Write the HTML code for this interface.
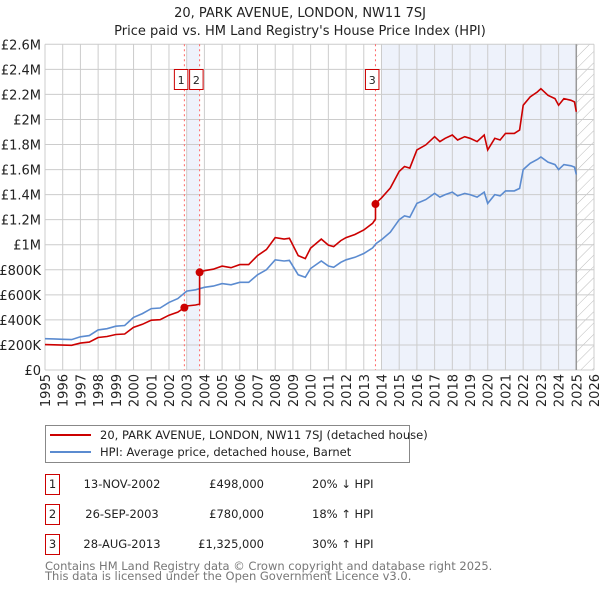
<!DOCTYPE html>
<html><head><meta charset="utf-8">
<style>
body{margin:0;background:#fff;font-family:"DejaVu Sans","Liberation Sans",sans-serif;}
svg text{font-family:"DejaVu Sans","Liberation Sans",sans-serif;}
</style></head>
<body>
<svg id="chart" width="600" height="590" viewBox="0 0 600 590" xmlns="http://www.w3.org/2000/svg">
<defs>
<pattern id="hatch" patternUnits="userSpaceOnUse" width="8" height="8" patternTransform="rotate(45)">
<line x1="0" y1="0" x2="0" y2="8" stroke="#bbb" stroke-width="1"/>
</pattern>
</defs>
<text x="300" y="17" text-anchor="middle" font-size="13" fill="#222">20, PARK AVENUE, LONDON, NW11 7SJ</text>
<text x="300" y="35" text-anchor="middle" font-size="13" fill="#222">Price paid vs. HM Land Registry's House Price Index (HPI)</text>
<g id="plot"></g>
<g id="legend">
<rect x="45.5" y="425.5" width="364" height="37" fill="#fff" stroke="#888"/>
<line x1="50" y1="435" x2="91" y2="435" stroke="#cc0000" stroke-width="2"/>
<text x="100" y="439" font-size="11.5" fill="#222">20, PARK AVENUE, LONDON, NW11 7SJ (detached house)</text>
<line x1="50" y1="452" x2="91" y2="452" stroke="#5b8bd0" stroke-width="2"/>
<text x="100" y="456" font-size="11.5" fill="#222">HPI: Average price, detached house, Barnet</text>
</g>
<g id="table" font-size="11.5" fill="#222"></g>
<text x="45" y="570" font-size="11.5" fill="#777">Contains HM Land Registry data © Crown copyright and database right 2025.</text>
<text x="45" y="580" font-size="11.5" fill="#777">This data is licensed under the Open Government Licence v3.0.</text>
</svg>
<script>
const hpiYears = [1995,1995.5,1996,1996.5,1997,1997.5,1998,1998.5,1999,1999.5,2000,2000.5,2001,2001.5,2002,2002.5,2003,2003.5,2004,2004.5,2005,2005.5,2006,2006.5,2007,2007.5,2008,2008.5,2008.8,2009.3,2009.7,2010,2010.6,2011,2011.3,2011.7,2012,2012.5,2013,2013.5,2013.7,2014,2014.5,2015,2015.3,2015.6,2016,2016.5,2017,2017.3,2017.6,2018,2018.3,2018.7,2019,2019.4,2019.8,2020,2020.4,2020.7,2021,2021.5,2021.8,2022,2022.4,2022.8,2023,2023.4,2023.8,2024,2024.3,2024.7,2024.9,2025];
const hpiValues = [250000,248000,245000,243000,265000,275000,320000,330000,350000,355000,420000,450000,490000,495000,540000,570000,630000,640000,660000,670000,690000,680000,700000,700000,760000,800000,880000,870000,875000,760000,740000,810000,870000,830000,820000,860000,880000,900000,930000,975000,1010000,1040000,1100000,1200000,1230000,1220000,1330000,1360000,1410000,1380000,1400000,1420000,1390000,1410000,1400000,1380000,1420000,1330000,1400000,1390000,1430000,1430000,1450000,1600000,1650000,1680000,1700000,1660000,1640000,1600000,1640000,1630000,1620000,1560000];
const saleLabels = ["1","2","3"];
const saleYears = [2002.87,2003.73,2013.66];
const salePrices = [498000,780000,1325000];
const saleDates = ["13-NOV-2002","26-SEP-2003","28-AUG-2013"];
const salePriceText = ["£498,000","£780,000","£1,325,000"];
const saleHpiText = ["20% ↓ HPI","18% ↑ HPI","30% ↑ HPI"];
const yTicks = [0,200000,400000,600000,800000,1000000,1200000,1400000,1600000,1800000,2000000,2200000,2400000,2600000];
const yTickLabels = ["£0","£200K","£400K","£600K","£800K","£1M","£1.2M","£1.4M","£1.6M","£1.8M","£2M","£2.2M","£2.4M","£2.6M"];
const xTicks = [1995,1996,1997,1998,1999,2000,2001,2002,2003,2004,2005,2006,2007,2008,2009,2010,2011,2012,2013,2014,2015,2016,2017,2018,2019,2020,2021,2022,2023,2024,2025,2026];

const L=45,R=594,T=44.3,B=370;
const x=v=>L+(v-1995)/(2026-1995)*(R-L);
const y=v=>B-v/2600000*(B-T);
const NS="http://www.w3.org/2000/svg";
const plot=document.getElementById('plot');
function mk(tag,attrs,parent){const e=document.createElementNS(NS,tag);for(const k in attrs)e.setAttribute(k,attrs[k]);(parent||plot).appendChild(e);return e;}
function hpiAt(t){for(let i=1;i<hpiYears.length;i++){if(t<=hpiYears[i]){const f=(t-hpiYears[i-1])/(hpiYears[i]-hpiYears[i-1]);return hpiValues[i-1]+f*(hpiValues[i]-hpiValues[i-1]);}}return hpiValues[hpiValues.length-1];}

let s=mk('rect',{x:x(saleYears[0])+2.5,y:T,width:x(saleYears[1])-x(saleYears[0])-2.5,height:B-T,fill:'#eef2fb'});


s=mk('rect',{x:x(2014),y:T,width:x(2025)-x(2014),height:B-T,fill:'#eef2fb'});


s=mk('rect',{x:x(2025),y:T,width:R-x(2025),height:B-T,fill:'url(#hatch)'});


yTicks.forEach((v,i)=>{
 const g=mk('line',{x1:L,x2:R,y1:y(v),y2:y(v),stroke:'#ccc','stroke-width':1});
 
 
 const t=mk('text',{x:L-4,y:y(v)+5,'text-anchor':'end','font-size':13,fill:'#222'});
 
 
 t.textContent=yTickLabels[i];
});
xTicks.forEach(v=>{
 const g=mk('line',{x1:x(v),x2:x(v),y1:T,y2:B,stroke:'#ccc','stroke-width':1});
 
 
 const t=mk('text',{x:0,y:0,'text-anchor':'end','font-size':13,fill:'#222',transform:`translate(${x(v)+5},${B+4}) rotate(-90)`});
 
 
 t.textContent=v;
});
const cur=mk('line',{x1:x(2025),x2:x(2025),y1:T,y2:B,stroke:'#999','stroke-width':1.5});


saleYears.forEach((sy,i)=>{
 const l=mk('line',{x1:x(sy),x2:x(sy),y1:T,y2:B,stroke:'#ff6666','stroke-width':1,'stroke-dasharray':'2,3'});
 
 
});
const hp=mk('path',{d:hpiYears.map((t,i)=>(i?'L':'M')+x(t).toFixed(1)+','+y(hpiValues[i]).toFixed(1)).join(''),fill:'none',stroke:'#5b8bd0','stroke-width':1.6});


function ratioAt(t){let k=0;for(let i=0;i<saleYears.length;i++)if(t>=saleYears[i])k=i;return salePrices[k]/hpiAt(saleYears[k]);}
const pts=[];
const times=hpiYears.concat(saleYears).sort((a,b)=>a-b);
times.forEach(t=>{
 for(let i=0;i<saleYears.length;i++){if(Math.abs(t-saleYears[i])<1e-9 && i>0){pts.push([t,hpiAt(t)*ratioAt(t-1e-6)]);}}
 pts.push([t,hpiAt(t)*ratioAt(t)]);
});
const pp=mk('path',{d:pts.map((p,i)=>(i?'L':'M')+x(p[0]).toFixed(1)+','+y(p[1]).toFixed(1)).join(''),fill:'none',stroke:'#cc0000','stroke-width':1.6});


saleYears.forEach((sy,i)=>{
 const c=mk('circle',{cx:x(sy),cy:y(salePrices[i]),r:4,fill:'#cc0000'});
 
 
 const bx=x(sy)-10;
 const r=mk('rect',{x:bx,y:69.5,width:13.5,height:20,fill:'#fff',stroke:'#cc0000','stroke-width':1});
 
 
 const t=mk('text',{x:bx+6.75,y:84,'text-anchor':'middle','font-size':11,fill:'#222'});
 
 
 t.textContent=saleLabels[i];
});
const tb=document.getElementById('table');
saleYears.forEach((sy,i)=>{
 const ry=474+i*30;
 const r=mk('rect',{x:45.5,y:ry+0.5,width:14,height:20,fill:'#fff',stroke:'#cc0000','stroke-width':1},tb);
 
 
 const cells=[[52.5,'middle',saleLabels[i]],[122,'middle',saleDates[i]],[264,'end',salePriceText[i]],[312,'start',saleHpiText[i]]];
 cells.forEach((c,j)=>{
  const t=mk('text',{x:c[0],y:ry+14,'text-anchor':c[1],'font-size':11.5,fill:'#222'},tb);
  
  
  t.textContent=c[2];
 });
});
</script>
</body></html>
